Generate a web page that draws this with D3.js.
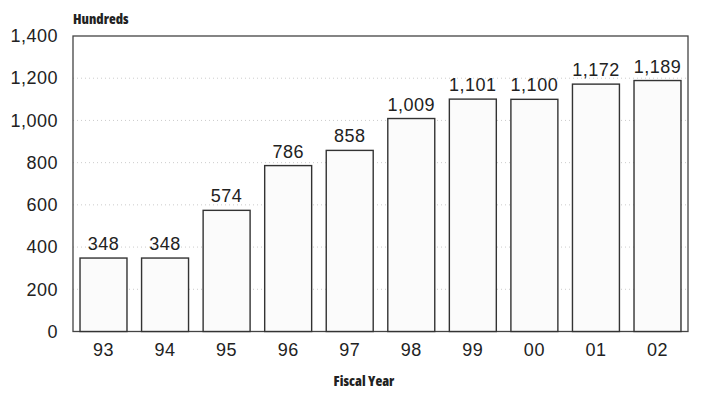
<!DOCTYPE html>
<html>
<head>
<meta charset="utf-8">
<script src="https://cdn.jsdelivr.net/npm/d3@7"></script>
<style>
  body { margin: 0; background: #fff; }
  svg { display: block; }
</style>
</head>
<body>
<svg id="chart"></svg>
<script>
const years = ["93", "94", "95", "96", "97", "98", "99", "00", "01", "02"];
const values = [348, 348, 574, 786, 858, 1009, 1101, 1100, 1172, 1189];
const yTicks = [0, 200, 400, 600, 800, 1000, 1200, 1400];

const width = 705, height = 400;
const plotLeft = 73, plotRight = 688, plotTop = 36, plotBottom = 331.5;
const labelFont = "'Liberation Sans', Arial, sans-serif";
const titleFont = "'Open Sans', sans-serif";

const svg = d3.select("#chart").attr("width", width).attr("height", height);

const x = d3.scaleBand().domain(years).range([plotLeft, plotRight])
    .paddingInner(0.237).paddingOuter(0.114);
const y = d3.scaleLinear().domain([0, 1400]).range([plotBottom, plotTop]);
const fmt = d3.format(",");

function styleLabel(sel) {
    sel.style("font-family", labelFont)
        .style("font-size", "18px")
        .style("letter-spacing", "0.5px")
        .style("fill", "#222");
}

// faint dotted gridlines
svg.append("g")
    .selectAll("line")
    .data(yTicks.slice(1, -1))
    .join("line")
    .attr("x1", plotLeft).attr("x2", plotRight)
    .attr("y1", d => y(d)).attr("y2", d => y(d))
    .attr("stroke", "#ccc")
    .attr("stroke-width", 1)
    .attr("stroke-dasharray", "1,3");

// frame
svg.append("rect")
    .attr("x", plotLeft).attr("y", plotTop)
    .attr("width", plotRight - plotLeft).attr("height", plotBottom - plotTop)
    .attr("fill", "none")
    .attr("stroke", "#444")
    .attr("stroke-width", 1.3);

svg.selectAll(".bar")
    .data(values)
    .join("rect")
    .attr("class", "bar")
    .attr("x", (d, i) => x(years[i]))
    .attr("y", d => y(d))
    .attr("width", x.bandwidth())
    .attr("height", d => y(0) - y(d))
    .attr("fill", "#fbfbfb")
    .attr("stroke", "#333")
    .attr("stroke-width", 1.4);

svg.selectAll(".val")
    .data(values)
    .join("text")
    .attr("class", "val")
    .attr("x", (d, i) => x(years[i]) + x.bandwidth() / 2)
    .attr("y", d => y(d) - 8)
    .attr("text-anchor", "middle")
    .call(styleLabel)
    .text(d => fmt(d));

// y axis
const yAxis = d3.axisLeft(y).tickValues(yTicks).tickFormat(fmt).tickSize(0).tickPadding(15);
svg.append("g")
    .attr("transform", `translate(${plotLeft},0)`)
    .call(yAxis)
    .call(g => g.select(".domain").remove())
    .call(g => g.selectAll("text").call(styleLabel));

// x axis
const xAxis = d3.axisBottom(x).tickSize(0).tickPadding(12);
svg.append("g")
    .attr("transform", `translate(0,${plotBottom})`)
    .call(xAxis)
    .call(g => g.select(".domain").remove())
    .call(g => g.selectAll("text").call(styleLabel));

svg.append("text")
    .attr("x", plotLeft)
    .attr("y", 24)
    .style("font-family", titleFont)
    .style("font-stretch", "condensed")
    .style("font-weight", 800)
    .style("font-size", "14px")
    .style("fill", "#222")
    .text("Hundreds");

svg.append("text")
    .attr("x", 364)
    .attr("y", 386)
    .attr("text-anchor", "middle")
    .style("font-family", titleFont)
    .style("font-stretch", "condensed")
    .style("font-weight", 800)
    .style("font-size", "14px")
    .style("fill", "#222")
    .text("Fiscal Year");
</script>
</body>
</html>
